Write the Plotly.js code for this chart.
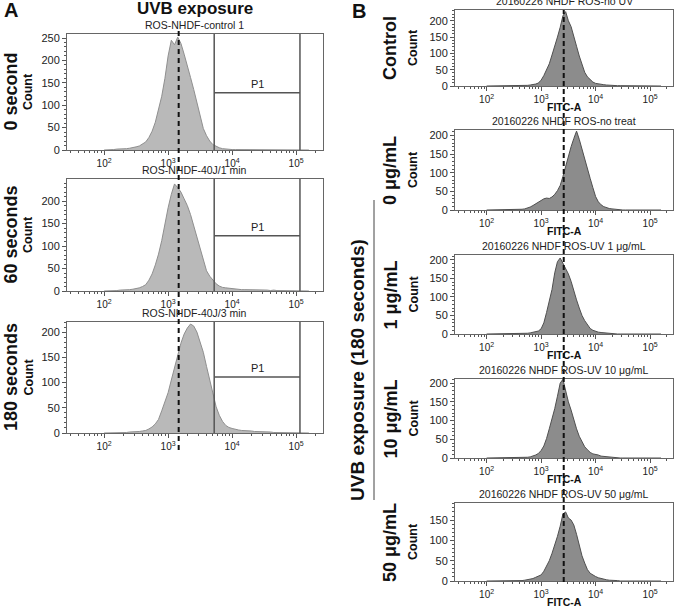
<!DOCTYPE html>
<html>
<head>
<meta charset="utf-8">
<script src="https://cdn.plot.ly/plotly-3.0.1.min.js"></script>
<style>html,body{margin:0;padding:0;background:#fff;}#chart{width:675px;height:607px;}</style>
</head>
<body>
<div id="chart"></div>
<script>
// ---- Data (log10 FITC-A bin positions and counts) ----
const bins = [2.00,2.05,2.10,2.15,2.20,2.25,2.30,2.35,2.40,2.45,
              2.50,2.55,2.60,2.65,2.70,2.75,2.80,2.85,2.90,2.95,
              3.00,3.05,3.10,3.15,3.20,3.25,3.30,3.35,3.40,3.45,
              3.50,3.55,3.60,3.65,3.70,3.75,3.80,3.85,3.90,3.95,
              4.00,4.05,4.10,4.15,4.20,4.25,4.30,4.35,4.40,4.45,
              4.50,4.55,4.60,4.65,4.70,4.75,4.80,4.85,4.90,4.95,
              5.00,5.05,5.10,5.15,5.20];

const countA_0s   = [0,0,1,1,2,2,3,3,4,5, 7,9,13,18,28,42,62,88,120,160, 210,245,235,252,238,214,190,162,135,105, 75,48,32,20,12,8,5,3,2,2, 1,1,1,0,0,0,0,0,0,0, 0,0,0,0,0,0,0,0,0,0, 0,0,0,0,0];
const countA_60s  = [0,0,1,1,1,2,2,3,3,4, 5,7,10,14,24,38,58,82,112,150, 185,215,238,230,220,205,190,170,145,118, 90,65,45,33,24,16,11,8,7,6, 5,4,4,3,3,3,2,3,2,2, 2,2,1,2,1,1,1,1,1,1, 0,0,0,0,0];
const countA_180s = [0,0,0,0,1,1,1,1,2,2, 2,3,4,5,8,12,18,27,44,62, 80,105,130,152,178,196,208,216,212,200, 180,160,132,104,76,52,35,23,15,11, 9,7,6,5,5,4,4,3,3,2, 2,2,2,1,1,1,1,1,1,1, 0,0,0,0,0];

const countB_control = [0,0,0,0,0,0,0,0,0,0, 0,1,1,1,1,2,3,4,6,9, 18,32,48,68,95,120,150,180,215,228, 200,182,155,122,92,65,42,28,19,12, 8,6,5,4,3,2,2,1,1,1, 1,0,0,0,0,0,0,0,0,0, 0,0,0,0,0];
const countB_0   = [0,0,0,0,0,0,0,0,0,0, 1,1,2,2,3,5,8,12,17,22, 27,30,32,31,35,42,52,66,90,118, 145,170,192,212,190,162,140,112,85,60, 36,22,14,9,6,4,3,2,1,1, 0,0,0,0,0,0,0,0,0,0, 0,0,0,0,0];
const countB_1   = [0,0,0,0,0,0,0,0,0,0, 0,0,1,1,2,2,3,4,6,8, 14,30,58,88,120,165,195,205,192,178, 162,142,115,92,70,50,36,24,15,10, 7,5,4,3,3,2,1,1,0,0, 0,0,0,0,0,0,0,0,0,0, 0,0,0,0,0];
const countB_10  = [0,0,0,0,0,0,0,0,0,0, 0,0,0,1,1,2,3,5,8,12, 20,32,52,78,102,132,165,200,210,178, 150,128,102,78,58,42,30,22,15,11, 10,8,5,4,3,2,1,1,0,0, 0,0,0,0,0,0,0,0,0,0, 0,0,0,0,0];
const countB_50  = [0,0,0,0,0,0,0,0,0,0, 0,0,0,1,2,3,4,6,9,12, 15,24,36,50,68,88,110,135,165,170, 155,150,138,115,88,62,44,28,19,14, 11,8,6,5,3,2,2,1,1,0, 0,0,0,0,0,0,0,0,0,0, 0,0,0,0,0];

const titlesA = ['ROS-NHDF-control 1','ROS-NHDF-40J/1 min','ROS-NHDF-40J/3 min'];
const rowLabelsA = ['0 second','60 seconds','180 seconds'];
const titlesB = ['20160226 NHDF ROS-no UV','20160226 NHDF ROS-no treat','20160226 NHDF ROS-UV 1 μg/mL','20160226 NHDF ROS-UV 10 μg/mL','20160226 NHDF ROS-UV 50 μg/mL'];
const rowLabelsB = ['Control','0 μg/mL','1 μg/mL','10 μg/mL','50 μg/mL'];
const tickExp = [2,3,4,5];
const tickText = ['10<sup>2</sup>','10<sup>3</sup>','10<sup>4</sup>','10<sup>5</sup>'];
const meanA = 3.165;   // log10 of dashed reference line, panel A
const meanB = 3.415;   // log10 of dashed reference line, panel B
const gateP1 = [3.72, 5.06];          // log10 gate edges
const gateP1Level = [128, 123, 111];  // gate horizontal line counts

// ---- Layout geometry (pixels) ----
const W = 675, H = 607;
const fx = v => v / W, fy = v => 1 - v / H;
const boxA = {x0:67, x1:323, rows:[[34,150],[179,291],[322,433]], ytop:[259,249,220], ytick:[[0,50,100,150,200,250],[0,50,100,150,200],[0,50,100,150,200]]};
const boxB = {x0:455, x1:673, rows:[[10,86],[130,210],[255,334],[379,458],[503,581]], ytop:[233,215,213,211,192], ytick:[[0,50,100,150,200],[0,50,100,150,200],[0,50,100,150,200],[0,50,100,150,200],[0,50,100,150]]};

const minorX = [];
for (let n = 1; n <= 5; n++) for (let k = 2; k <= 9; k++) { const v = n + Math.log10(k); if (v > 1.42 && v < 5.42) minorX.push(v); }

const FONT = 'Liberation Sans, Arial, sans-serif';
const dataA = [countA_0s, countA_60s, countA_180s];
const dataB = [countB_control, countB_0, countB_1, countB_10, countB_50];

const traces = [];
const layout = {
  width: W, height: H, margin:{l:0,r:0,t:0,b:0},
  paper_bgcolor:'#fff', plot_bgcolor:'#fff', showlegend:false,
  font:{family:FONT, color:'#222'},
  annotations:[], shapes:[]
};

function xAxis(dom, anchor) {
  return {domain:dom, anchor:anchor, range:[1.42,5.42], tickmode:'array', tickvals:tickExp, ticktext:tickText,
    ticks:'outside', ticklen:4, tickwidth:1, tickcolor:'#555', showline:true, linecolor:'#666', linewidth:1, mirror:true,
    showgrid:false, zeroline:false, tickfont:{size:10, color:'#222'},
    minor:{tickmode:'array', tickvals:minorX, ticks:'outside', ticklen:2, tickcolor:'#555', showgrid:false}};
}
function yAxis(dom, anchor, top, ticks) {
  return {domain:dom, anchor:anchor, range:[0, top], tickmode:'array', tickvals:ticks,
    ticks:'outside', ticklen:4, tickwidth:1, tickcolor:'#555', showline:true, linecolor:'#666', linewidth:1, mirror:true,
    showgrid:false, zeroline:false, tickfont:{size:11, color:'#222'},
    minor:{dtick:10, ticks:'outside', ticklen:2, tickcolor:'#555', showgrid:false}};
}

let idx = 0;
function addPanel(box, r, series, fill, edge, title, rowLabel, fitc) {
  idx++;
  const xn = 'x' + (idx === 1 ? '' : idx), yn = 'y' + (idx === 1 ? '' : idx);
  const xk = 'xaxis' + (idx === 1 ? '' : idx), yk = 'yaxis' + (idx === 1 ? '' : idx);
  const [t, b] = box.rows[r];
  layout[xk] = xAxis([fx(box.x0), fx(box.x1)], yn);
  layout[yk] = yAxis([fy(b), fy(t)], xn, box.ytop[r], box.ytick[r]);
  traces.push({x:bins, y:series, xaxis:xn, yaxis:yn, type:'scatter', mode:'lines', fill:'tozeroy',
    fillcolor:fill, line:{color:edge, width:1}, hoverinfo:'skip'});
  const cx = (box.x0 + box.x1) / 2;
  layout.annotations.push({xref:'paper', yref:'paper', x:fx(cx), y:fy(t - 1), xanchor:'center', yanchor:'bottom',
    text:title, showarrow:false, font:{size:10.5, color:'#222'}});
  const isA = box === boxA;
  layout.annotations.push({xref:'paper', yref:'paper', x:fx(isA ? 10.5 : 390), y:fy((t + b) / 2), textangle:-90,
    xanchor:'center', yanchor:'middle', text:'<b>' + rowLabel + '</b>', showarrow:false, font:{size:18, color:'#111'}});
  layout.annotations.push({xref:'paper', yref:'paper', x:fx(isA ? 28 : 413), y:fy((t + b) / 2), textangle:-90,
    xanchor:'center', yanchor:'middle', text:'<b>Count</b>', showarrow:false, font:{size:12.5, color:'#111'}});
  if (fitc) layout.annotations.push({xref:'paper', yref:'paper', x:fx(cx), y:fy(b + 21), xanchor:'center', yanchor:'middle',
    text:'<b>FITC-A</b>', showarrow:false, font:{size:10.5, color:'#111'}});
  return {xn, yn};
}

const axA = [];
for (let r = 0; r < 3; r++) axA.push(addPanel(boxA, r, dataA[r], '#b9b9b9', '#8f8f8f', titlesA[r], rowLabelsA[r], false));
const axB = [];
for (let r = 0; r < 5; r++) axB.push(addPanel(boxB, r, dataB[r], '#8c8c8c', '#505050', titlesB[r], rowLabelsB[r], true));

// gates P1 in panel A
for (let r = 0; r < 3; r++) {
  const {xn, yn} = axA[r];
  const g = {color:'#555', width:1.5};
  layout.shapes.push({type:'line', xref:xn, yref:yn + ' domain', x0:gateP1[0], x1:gateP1[0], y0:0, y1:1, line:g});
  layout.shapes.push({type:'line', xref:xn, yref:yn + ' domain', x0:gateP1[1], x1:gateP1[1], y0:0, y1:1, line:g});
  layout.shapes.push({type:'line', xref:xn, yref:yn, x0:gateP1[0], x1:gateP1[1], y0:gateP1Level[r], y1:gateP1Level[r], line:g});
  layout.annotations.push({xref:xn, yref:yn, x:(gateP1[0] + gateP1[1]) / 2, y:gateP1Level[r], yanchor:'bottom', yshift:1,
    text:'P1', showarrow:false, font:{size:11, color:'#222'}});
}

// dashed reference lines
layout.shapes.push({type:'line', xref:'x', yref:'paper', x0:meanA, x1:meanA, y0:fy(450), y1:fy(28),
  line:{color:'#111', width:2, dash:'5px,4px'}});
layout.shapes.push({type:'line', xref:axB[0].xn, yref:'paper', x0:meanB, x1:meanB, y0:fy(582), y1:fy(10),
  line:{color:'#111', width:2, dash:'5px,3px'}});
// bracket line for UVB exposure group
layout.shapes.push({type:'line', xref:'paper', yref:'paper', x0:fx(374), x1:fx(374), y0:fy(500), y1:fy(200),
  line:{color:'#444', width:1}});

// headings
layout.annotations.push({xref:'paper', yref:'paper', x:fx(2), y:fy(10), xanchor:'left', yanchor:'middle',
  text:'<b>A</b>', showarrow:false, font:{size:20, color:'#111'}});
layout.annotations.push({xref:'paper', yref:'paper', x:fx(195), y:fy(9), xanchor:'center', yanchor:'middle',
  text:'<b>UVB exposure</b>', showarrow:false, font:{size:17, color:'#111'}});
layout.annotations.push({xref:'paper', yref:'paper', x:fx(350), y:fy(11), xanchor:'left', yanchor:'middle',
  text:'<b>B</b>', showarrow:false, font:{size:20, color:'#111'}});
layout.annotations.push({xref:'paper', yref:'paper', x:fx(357), y:fy(370), textangle:-90, xanchor:'center', yanchor:'middle',
  text:'<b>UVB exposure (180 seconds)</b>', showarrow:false, font:{size:19, color:'#111'}});

Plotly.newPlot('chart', traces, layout, {staticPlot:true, displayModeBar:false});
</script>
</body>
</html>
